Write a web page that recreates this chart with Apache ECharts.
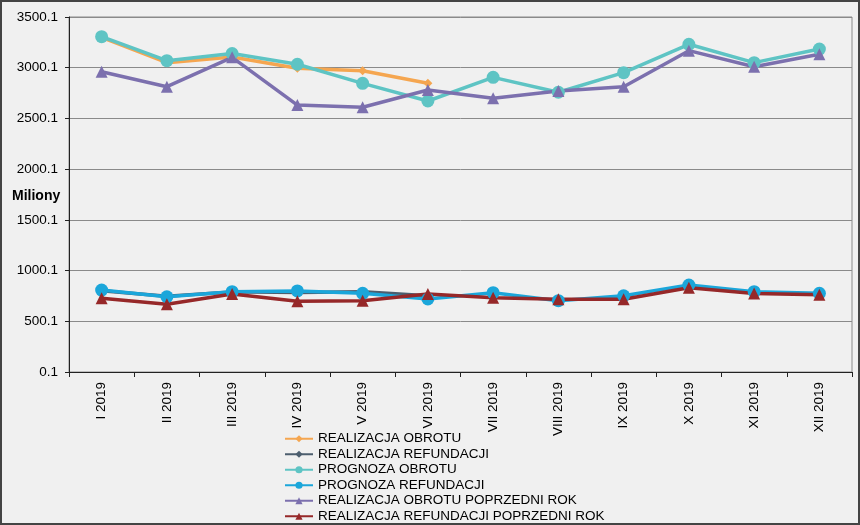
<!DOCTYPE html>
<html>
<head>
<meta charset="utf-8">
<script src="https://cdn.jsdelivr.net/npm/echarts@6/dist/echarts.min.js"></script>
<style>
html,body{margin:0;padding:0;background:#f0f0f0;}
#c{width:860px;height:525px;}
</style>
</head>
<body>
<div id="c"></div>
<script>
var categories = ['I 2019','II 2019','III 2019','IV 2019','V 2019','VI 2019','VII 2019','VIII 2019','IX 2019','X 2019','XI 2019','XII 2019'];
var yTickLabels = ['0.1','500.1','1000.1','1500.1','2000.1','2500.1','3000.1','3500.1'];
var seriesNames = ['REALIZACJA OBROTU','REALIZACJA REFUNDACJI','PROGNOZA OBROTU','PROGNOZA REFUNDACJI','REALIZACJA OBROTU POPRZEDNI ROK','REALIZACJA REFUNDACJI POPRZEDNI ROK'];
var realizacjaObrotu = [3300, 3050, 3105, 2995, 2970, 2846, null, null, null, null, null, null];
var realizacjaRefundacji = [800, 748, 790, 785, 792, 752, null, null, null, null, null, null];
var prognozaObrotu = [3306, 3069, 3140, 3034, 2846, 2672, 2905, 2758, 2951, 3231, 3050, 3184];
var prognozaRefundacji = [808, 742, 792, 799, 776, 720, 782, 703, 752, 858, 792, 776];
var realizacjaObrotuPR = [2961, 2813, 3102, 2632, 2610, 2780, 2698, 2770, 2813, 3168, 3010, 3132];
var realizacjaRefundacjiPR = [726, 667, 769, 697, 703, 769, 733, 717, 717, 831, 775, 762];

var colors = ['#F5A650','#4C5E6E','#5EC4C4','#1BA6DA','#7C70AE','#962829'];
var symbols = ['diamond','diamond','circle','circle','triangle','triangle'];
var sizes = [9, 9, 13, 13, 12, 12];
var datas = [realizacjaObrotu, realizacjaRefundacji, prognozaObrotu, prognozaRefundacji, realizacjaObrotuPR, realizacjaRefundacjiPR];

var series = seriesNames.map(function(n, i){
  return {
    name: n, type: 'line', data: datas[i],
    symbol: symbols[i], symbolSize: sizes[i],
    lineStyle: {color: colors[i], width: 3.5},
    itemStyle: {color: colors[i]},
    connectNulls: false, animation: false
  };
});

var chart = echarts.init(document.getElementById('c'));
chart.setOption({
  backgroundColor: '#f0f0f0',
  animation: false,
  grid: {left: 69, right: 8, top: 17, bottom: 153, show: true, borderColor: '#8a8a8a', borderWidth: 1, backgroundColor: 'transparent'},
  xAxis: {
    type: 'category', data: categories, boundaryGap: true,
    axisLine: {lineStyle: {color: '#222', width: 1}},
    axisTick: {show: true, length: 5, lineStyle: {color: '#222'}},
    axisLabel: {rotate: 90, fontSize: 13.5, color: '#000', fontFamily: 'Liberation Sans, Arial', margin: 10}
  },
  yAxis: {
    type: 'value', min: 0, max: 3500, interval: 500,
    axisLine: {show: true, lineStyle: {color: '#222', width: 1}},
    axisTick: {show: true, length: 4, lineStyle: {color: '#222'}},
    splitLine: {lineStyle: {color: '#8a8a8a', width: 1}},
    axisLabel: {fontSize: 13.5, color: '#000', fontFamily: 'Liberation Sans, Arial', margin: 11,
      formatter: function(v){ return yTickLabels[Math.round(v/500)]; }}
  },
  legend: {
    orient: 'vertical', left: 279, top: 426, height: 200,
    itemWidth: 28, itemHeight: 9, itemGap: 0,
    textStyle: {fontSize: 13.5, color: '#000', fontFamily: 'Liberation Sans, Arial', lineHeight: 15.5},
    data: seriesNames
  },
  graphic: [
    {type: 'text', left: 12, top: 189, style: {text: 'Miliony', fontSize: 14, fontWeight: 'bold', fill: '#000', fontFamily: 'Liberation Sans, Arial'}},
    {type: 'rect', shape: {x: 1, y: 1, width: 858, height: 523}, style: {fill: 'none', stroke: '#444', lineWidth: 2}, silent: true}
  ],
  series: series
});
</script>
</body>
</html>
